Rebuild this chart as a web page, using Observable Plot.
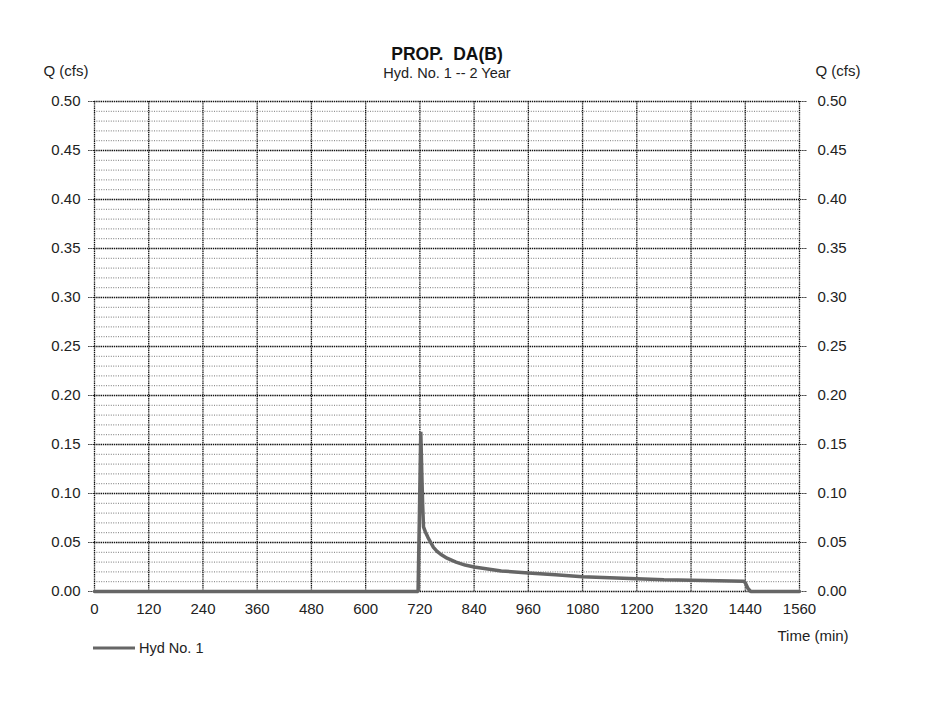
<!DOCTYPE html>
<html><head><meta charset="utf-8">
<script src="https://cdn.jsdelivr.net/npm/d3@7"></script>
<script src="https://cdn.jsdelivr.net/npm/@observablehq/plot@0.6"></script>
<style>
body{margin:0;background:#fff;font-family:"Liberation Sans",Arial,sans-serif;}
#wrap{position:relative;width:948px;height:716px;}
.lbl{position:absolute;color:#222;white-space:pre;transform:translate(-50%,-50%);line-height:1;}
</style></head><body>
<div id="wrap"></div>
<script>
// Hydrograph values
const times = [0, 716, 719, 722, 724, 726, 728, 732, 738, 744, 750, 758, 766, 780, 800, 820, 840, 870, 900, 960, 1020, 1080, 1140, 1200, 1260, 1320, 1380, 1436, 1440, 1446, 1452, 1560];
const flows = [0, 0, 0.08, 0.163, 0.125, 0.09, 0.066, 0.061, 0.055, 0.050, 0.045, 0.041, 0.038, 0.034, 0.030, 0.027, 0.025, 0.023, 0.021, 0.019, 0.017, 0.015, 0.014, 0.013, 0.012, 0.0115, 0.011, 0.0105, 0.009, 0.003, 0, 0];
const xTicks = [0, 120, 240, 360, 480, 600, 720, 840, 960, 1080, 1200, 1320, 1440, 1560];
const yTicks = [0, 0.05, 0.10, 0.15, 0.20, 0.25, 0.30, 0.35, 0.40, 0.45, 0.50];
const yMinor = [0.01,0.02,0.03,0.04,0.06,0.07,0.08,0.09,0.11,0.12,0.13,0.14,0.16,0.17,0.18,0.19,0.21,0.22,0.23,0.24,0.26,0.27,0.28,0.29,0.31,0.32,0.33,0.34,0.36,0.37,0.38,0.39,0.41,0.42,0.43,0.44,0.46,0.47,0.48,0.49];

const data = times.map((t, i) => ({t, q: flows[i]}));
const fmt = d3.format(".2f");

const chart = Plot.plot({
  width: 948, height: 716,
  marginLeft: 94, marginRight: 149, marginTop: 101, marginBottom: 125,
  x: {domain: [0, 1560]},
  y: {domain: [0, 0.5]},
  style: {fontFamily: "'Liberation Sans', Arial, sans-serif", fontSize: "15px", color: "#222", background: "#fff"},
  marks: [
    Plot.gridY(yMinor, {stroke: "#777", strokeOpacity: 1, strokeWidth: 1, strokeDasharray: "1,1.4"}),
    Plot.gridY(yTicks, {stroke: "#111", strokeOpacity: 1, strokeWidth: 1.3, strokeDasharray: "1.4,0.8"}),
    Plot.gridX(xTicks, {stroke: "#111", strokeOpacity: 1, strokeWidth: 1.3, strokeDasharray: "1.4,0.8"}),
    Plot.axisY(yTicks, {anchor: "left", tickFormat: fmt, tickSize: 6, tickPadding: 8, label: null, strokeDasharray: "1.4,0.8"}),
    Plot.axisY(yTicks, {anchor: "right", tickFormat: fmt, tickSize: 7, tickPadding: 11, label: null, strokeDasharray: "1.4,0.8"}),
    Plot.axisX(xTicks, {anchor: "bottom", tickFormat: d => String(d), tickSize: 0, tickPadding: 12, label: null}),
    Plot.line(data, {x: "t", y: "q", stroke: "#666", strokeWidth: 3.5, strokeLinejoin: "miter"})
  ]
});
const wrap = document.getElementById("wrap");
wrap.appendChild(chart);
chart.style.position = "absolute";
chart.style.left = "0"; chart.style.top = "0";

function label(text, x, y, css) {
  const d = document.createElement("div");
  d.className = "lbl";
  d.textContent = text;
  d.style.left = x + "px"; d.style.top = y + "px";
  Object.assign(d.style, css || {});
  wrap.appendChild(d);
  return d;
}
label("PROP.  DA(B)", 447, 55, {fontSize: "17.5px", fontWeight: "bold", color: "#111"});
label("Hyd. No. 1 -- 2 Year", 447, 73, {fontSize: "14.5px"});
label("Q (cfs)", 66, 70, {fontSize: "15px"});
label("Q (cfs)", 838, 70, {fontSize: "15px"});
label("Time (min)", 813, 635, {fontSize: "15px"});
// legend
const leg = document.createElement("div");
leg.style.cssText = "position:absolute;left:93px;top:640px;height:16px;display:flex;align-items:center;font-size:14.5px;color:#222;";
leg.innerHTML = '<svg width="42" height="6" style="margin-right:4px"><line x1="0" y1="3" x2="42" y2="3" stroke="#666" stroke-width="3"/></svg><span>Hyd No. 1</span>';
wrap.appendChild(leg);
</script>
</body></html>
